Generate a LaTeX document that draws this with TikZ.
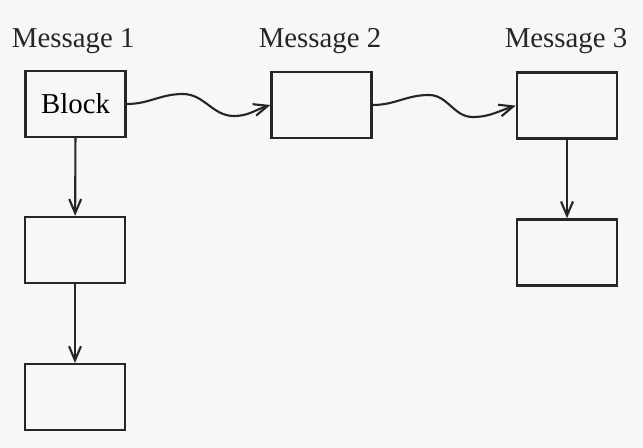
\documentclass[tikz,border=0pt]{standalone}
\usepackage{fontspec}
\setmainfont{Liberation Serif}
\usetikzlibrary{arrows.meta}
\tikzset{
	msgbox/.style={draw=black!85, line width=1.7pt, minimum width=2.5cm, minimum height=1.65cm, inner sep=0pt},
	msglabel/.style={anchor=base, text=black!85},
	pas/.style={draw=black!85, line width=1.5pt, -{Straight Barb[length=10pt,width=8.5pt,line width=1.5pt]}}
}
\begin{document}
\fontsize{20.5}{24}\selectfont
\begin{tikzpicture}
		\useasboundingbox[fill=black!3] (0,0) rectangle (16.075,-11.2);
		
		% missatges
		\node[msglabel] (m1) at (1.83,-1.175) {Message 1};
		\node[msglabel] (m2) at (8.0,-1.175) {Message 2};
		\node[msglabel] (m3) at (14.15,-1.175) {Message 3};
		
		% columna 1
		\node[msgbox] (b1) at (1.89,-2.6) {Block};
		\node[msgbox] (b1a) at (1.875,-6.25) {};
		\node[msgbox] (b1b) at (1.875,-9.93) {};
		\draw[pas] (b1) -- (b1a);
		\draw[pas] (b1a) -- (b1b);
		
		% columna 2 i 3
		\node[msgbox] (b2) at (8.04,-2.625) {};
		\node[msgbox] (b3) at (14.175,-2.64) {};
		\node[msgbox] (b3a) at (14.175,-6.31) {};
		\draw[pas] (b3) -- (b3a);
		
		% fletxes ondulades
		\draw[pas] (b1.east) to[out=0,in=180] ++(1.4,0.25) to[out=0,in=180] ++(1.28,-0.55) to[out=0,in=197] (b2.west);
		\draw[pas] (b2.east) to[out=0,in=180] ++(1.4,0.25) to[out=0,in=180] ++(1.1,-0.55) to[out=0,in=197] (b3.west);
	\end{tikzpicture}
\end{document}
